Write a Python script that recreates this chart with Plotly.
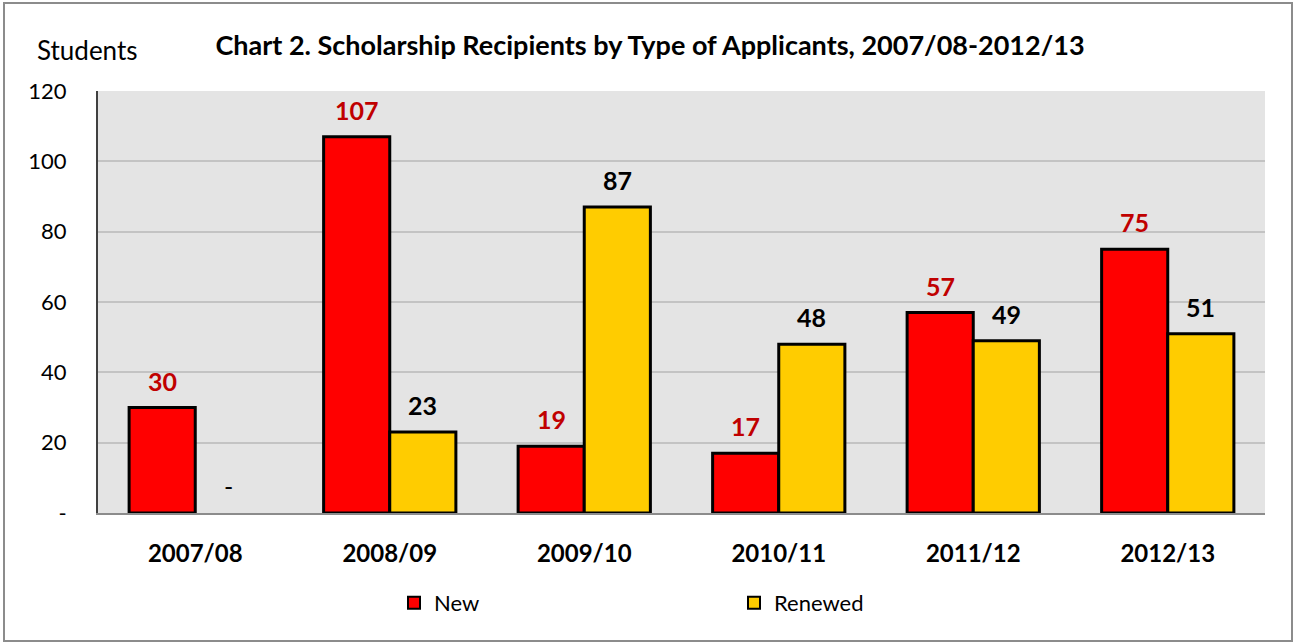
import plotly.graph_objects as go

years = ["2007/08", "2008/09", "2009/10", "2010/11", "2011/12", "2012/13"]
new_students = [30, 107, 19, 17, 57, 75]
renewed_students = [0, 23, 87, 48, 49, 51]
y_ticks = [0, 20, 40, 60, 80, 100, 120]
y_tick_labels = ["-", "20", "40", "60", "80", "100", "120"]

FONT = "Lato, 'Open Sans', sans-serif"
RED = "#FF0000"
YELLOW = "#FFCC00"

W, H = 1295, 644
L, R, T, B = 98, 30, 91, 131
pw, ph = W - L - R, H - T - B
BARGAP = 0.32
# half a bar width in pixels: the two bars of a group share (1 - gap) of its slot
half_bar = pw / len(years) * (1 - BARGAP) / 4


def label(v):
    return "-" if v == 0 else f"<b>{v}</b>"


fig = go.Figure()
fig.add_trace(go.Bar(
    x=years, y=new_students, name="New",
    marker=dict(color=RED, line=dict(color="black",
                                     width=[0 if v == 0 else 3 for v in new_students])),
))
fig.add_trace(go.Bar(
    x=years, y=renewed_students, name="Renewed",
    marker=dict(color=YELLOW, line=dict(color="black",
                                        width=[0 if v == 0 else 3 for v in renewed_students])),
))

# data labels above each bar
for vals, sign, colour in [(new_students, -1, "#C00000"), (renewed_students, 1, "black")]:
    for yr, v in zip(years, vals):
        fig.add_annotation(
            x=yr, y=v, text=label(v), showarrow=False,
            xshift=sign * half_bar, yshift=27,
            font=dict(size=25, family=FONT, color=colour),
        )

# outer chart border, in paper coords derived from pixel positions
fig.add_shape(
    type="rect", xref="paper", yref="paper",
    x0=(4 - L) / pw, x1=(1292 - L) / pw,
    y0=-(641 - T - ph) / ph, y1=1 + (T - 3) / ph,
    line=dict(color="#8c8c8c", width=2), layer="below",
)

fig.add_annotation(
    text="Students", xref="paper", yref="paper",
    x=(35 - L) / pw, y=1 + (T - 50) / ph, xanchor="left", yanchor="middle",
    showarrow=False, font=dict(size=26, family=FONT, color="black"),
)

fig.update_layout(
    width=W, height=H,
    margin=dict(l=L, r=R, t=T, b=B),
    paper_bgcolor="white",
    plot_bgcolor="#E4E4E4",
    barmode="group",
    bargap=BARGAP,
    bargroupgap=0,
    font=dict(family=FONT, color="black"),
    title=dict(
        text="<b>Chart 2. Scholarship Recipients by Type of Applicants, 2007/08-2012/13</b>",
        x=650 / W, xanchor="center", y=1 - 46 / H, yanchor="middle",
        font=dict(size=27, family=FONT, color="black"),
    ),
    legend=dict(
        orientation="h", x=(394 - L) / pw, xanchor="left",
        y=-(603 - T - ph) / ph, yanchor="middle",
        font=dict(size=22, family=FONT), entrywidth=295,
        itemsizing="constant",
    ),
    showlegend=True,
)
fig.update_yaxes(
    range=[0, 120], tickvals=y_ticks, ticktext=y_tick_labels,
    showgrid=True, gridcolor="#C3C3C3", gridwidth=2,
    showline=True, linecolor="#404040", linewidth=2,
    zeroline=False, ticks="", ticklabelstandoff=25,
    tickfont=dict(size=22, family=FONT),
)
fig.update_xaxes(
    showline=True, linecolor="#8c8c8c", linewidth=2,
    tickfont=dict(size=24, family=FONT),
    ticklabelstandoff=18,
    tickprefix="<b>", ticksuffix="</b>",
)

# page body has a default 8px margin; drop it so the figure sits at the window origin
fig.write_html("out.html", config={"displayModeBar": False},
               post_script="document.body.style.margin='0';")
